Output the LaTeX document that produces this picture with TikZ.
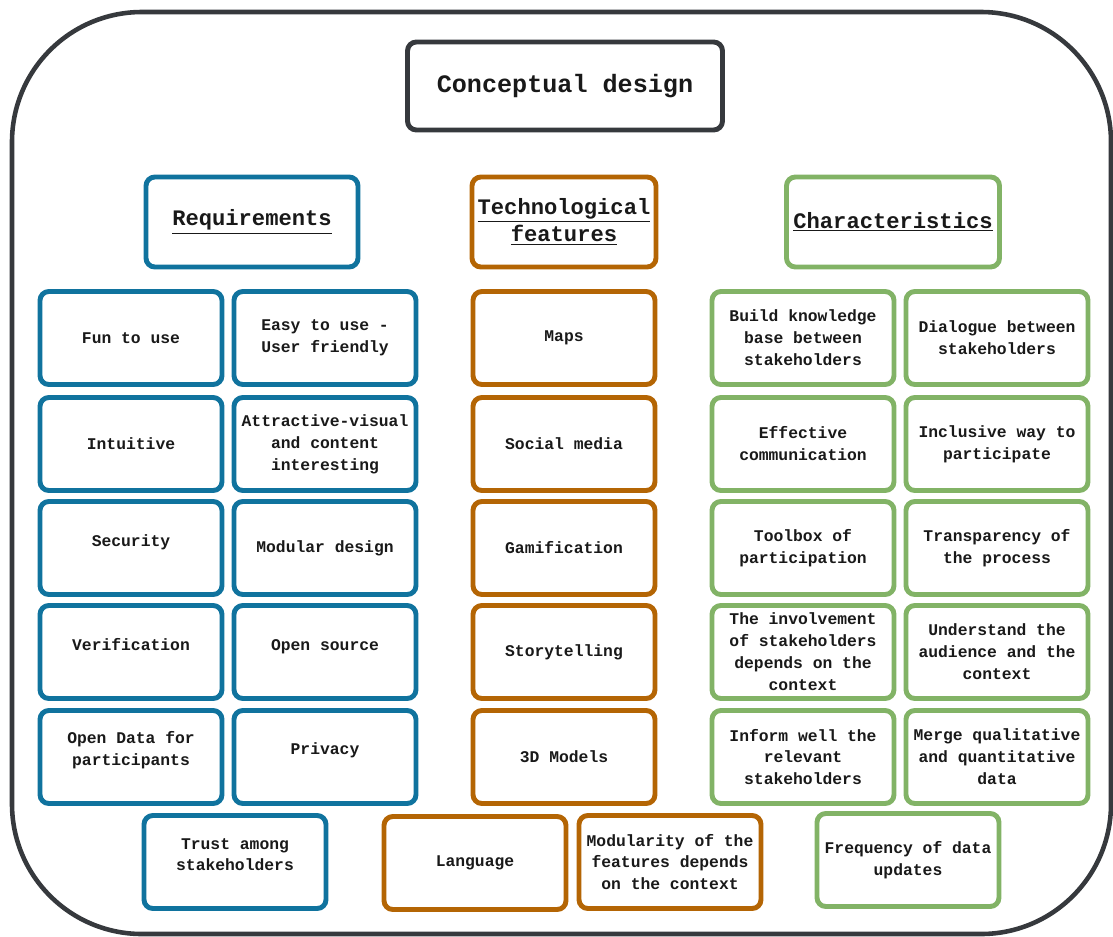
\documentclass[tikz,border=0pt]{standalone}
\usepackage{fontspec}
\setmonofont{Liberation Mono}
\usepackage{xcolor}
\usepackage{tikz}

\definecolor{reqblue}{HTML}{10739E}
\definecolor{techorange}{HTML}{B46504}
\definecolor{chargreen}{HTML}{82B366}
\definecolor{framegray}{HTML}{36393D}

\tikzset{
  sketchbox/.style={draw, line width=2.8pt, rounded corners=5pt, fill=white,
    inner sep=1pt, align=center, text=black!90,
    font=\ttfamily\bfseries\fontsize{9.3}{12.5}\selectfont},
  itembox/.style={sketchbox, minimum width=3.64cm, minimum height=1.86cm},
  headbox/.style={sketchbox, minimum height=1.8cm,
    font=\ttfamily\bfseries\fontsize{12.6}{15.4}\selectfont},
  reqbox/.style={itembox, draw=reqblue},
  techbox/.style={itembox, draw=techorange},
  charbox/.style={itembox, draw=chargreen}
}

\begin{document}
\begin{tikzpicture}[x=0.02cm, y=-0.02cm]
\useasboundingbox (0,0) rectangle (1113,937);

% Outer frame
\draw[framegray, line width=2.6pt, rounded corners=2.6cm] (12,12) rectangle (1111,934);

% Title
\node[headbox, draw=framegray, minimum width=6.3cm, minimum height=1.76cm,
  font=\ttfamily\bfseries\fontsize{14.3}{17}\selectfont] (title) at (565,86) {Conceptual design};

% Column headings
\node[headbox, draw=reqblue, minimum width=4.24cm] (req) at (252,222) {\underline{Requirements}};
\node[headbox, draw=techorange, minimum width=3.68cm] (tech) at (564,222) {\underline{Technological}\\\underline{features}};
\node[headbox, draw=chargreen, minimum width=4.26cm] (char) at (893,222) {\underline{Characteristics}};

% Requirements
\node[reqbox] (fun) at (131,338) {Fun to use};
\node[reqbox] (easy) at (325,338) {Easy to use -\\User friendly};
\node[reqbox] (intuitive) at (131,444) {Intuitive};
\node[reqbox] (attractive) at (325,444) {Attractive-visual\\and content\\interesting};
\node[reqbox] (security) at (131,548) {Security\\[-3.5pt]};
\node[reqbox] (modular) at (325,548) {Modular design};
\node[reqbox] (verification) at (131,652) {Verification\\[-4pt]};
\node[reqbox] (opensource) at (325,652) {Open source\\[-4pt]};
\node[reqbox] (opendata) at (131,757) {Open Data for\\participants\\[-3pt]};
\node[reqbox] (privacy) at (325,757) {Privacy\\[-2.5pt]};
\node[reqbox] (trust) at (235,862) {Trust among\\stakeholders\\[-4pt]};

% Technological features
\node[techbox] (maps) at (564,338) {Maps};
\node[techbox] (social) at (564,444) {Social media};
\node[techbox] (gamification) at (564,548) {Gamification};
\node[techbox] (story) at (564,652) {Storytelling};
\node[techbox] (models) at (564,757) {3D Models};
\node[techbox] (language) at (475,863) {Language};
\node[techbox] (modularity) at (670,862) {Modularity of the\\features depends\\on the context};

% Characteristics
\node[charbox] (knowledge) at (803,338) {Build knowledge\\base between\\stakeholders};
\node[charbox] (dialogue) at (997,338) {Dialogue between\\stakeholders};
\node[charbox] (effective) at (803,444) {Effective\\communication};
\node[charbox] (inclusive) at (997,444) {Inclusive way to\\participate};
\node[charbox] (toolbox) at (803,548) {Toolbox of\\participation};
\node[charbox] (transparency) at (997,548) {Transparency of\\the process};
\node[charbox] (involvement) at (803,652) {The involvement\\of stakeholders\\depends on the\\context};
\node[charbox] (audience) at (997,652) {Understand the\\audience and the\\context};
\node[charbox] (inform) at (803,757) {Inform well the\\relevant\\stakeholders};
\node[charbox] (merge) at (997,757) {Merge qualitative\\and quantitative\\data};
\node[charbox] (frequency) at (908,860) {Frequency of data\\updates};
\end{tikzpicture}
\end{document}
